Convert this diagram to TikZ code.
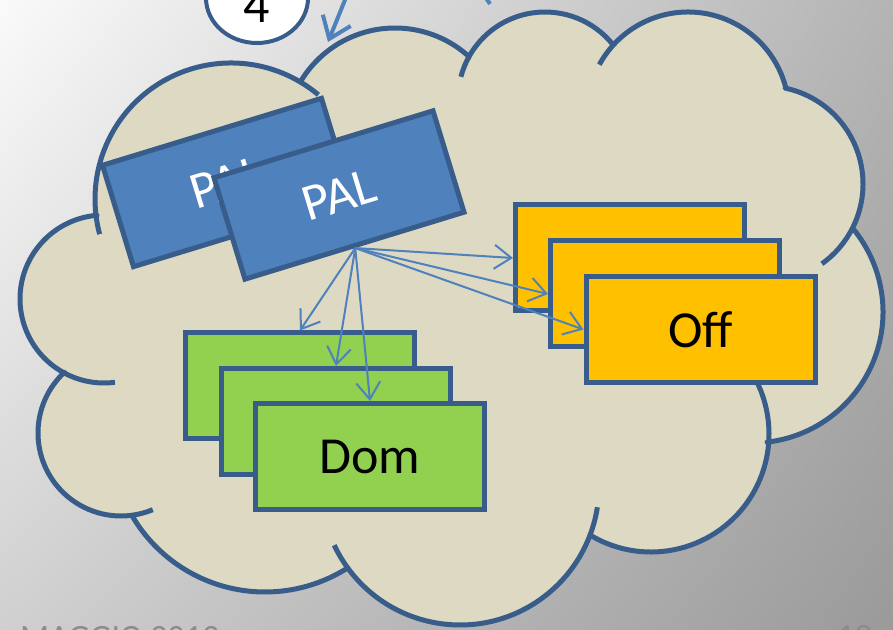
\documentclass[tikz,border=0pt]{standalone}
\usepackage{fontspec}
\setmainfont{Carlito}
\usetikzlibrary{arrows.meta, shapes.geometric, shadings}
\definecolor{palblue}{HTML}{4F81BD}
\definecolor{edgeblue}{HTML}{385D8A}
\definecolor{cloudtan}{HTML}{DDD9C3}
\definecolor{offorange}{HTML}{FFC000}
\definecolor{domgreen}{HTML}{92D050}
\definecolor{footgray}{HTML}{8C8C8C}
\definecolor{bgul}{HTML}{FAFAFA}
\definecolor{bgur}{HTML}{B4B4B4}
\definecolor{bgll}{HTML}{D0D0D0}
\definecolor{bglr}{HTML}{9A9A9A}

\begin{document}
\begin{tikzpicture}[x=1pt, y=1pt,
    box/.style={draw=edgeblue, line width=5pt, minimum width=229pt, minimum height=106pt,
      inner sep=0pt, font=\fontsize{52}{56}\selectfont},
    cloudline/.style={draw=edgeblue, line width=5pt, line join=round},
    link/.style={palblue, line width=2pt, -{Straight Barb[length=17pt, width=24pt]}},
    cue/.style={palblue, line width=4pt, -{Straight Barb[length=20pt, width=30pt]}},
    footer/.style={text=footgray, inner sep=0pt, font=\fontsize{34}{36}\selectfont}]
  \useasboundingbox (0,0) rectangle (893,629);
  \clip (0,0) rectangle (893,629);
  % slide backdrop
  \shade[upper left=bgul, upper right=bgur, lower left=bgll, lower right=bglr]
    (0,0) rectangle (893,629);

  % step marker and incoming arrows
  \node[ellipse, draw=edgeblue, fill=white, line width=4pt, minimum width=102pt,
    minimum height=90pt] (ring) at (257,631) {};
  \node[anchor=base, inner sep=0pt, font=\fontsize{52}{56}\selectfont] (num) at (257,606) {4};
  \coordinate (cuetail) at (347,634);
  \coordinate (cuehead) at (328,587);
  \draw[cue] (cuetail) -- (cuehead);
  \coordinate (straytail) at (484,634);
  \coordinate (strayhead) at (490,625);
  \draw[palblue, line width=4pt] (straytail) -- (strayhead);

  % cloud: one arc per lobe
  \filldraw[cloudline, fill=cloudtan] ([shift={(59.5:136)}]231,430)
    \foreach \x/\y/\r/\a/\b in {231/430/136/59.5/186.8, 104/330/84/94.8/242.2,
        121/196/83/133/277.6, 265/191/154/210.1/302.6, 460/143/139/216.2/339.3,
        651/195/118/238.9/356.1, 752/317/131/276.6/399.7, 765/445/98/333.4/438.2,
        688/516/101/14.5/137.8, 545/530/87/38.5/152, 395/491/110/47.6/149.5}
    { -- ([shift={(\a:\r)}]\x,\y) arc[start angle=\a, end angle=\b, radius=\r] } -- cycle;
  % inner stubs
  \foreach \x/\y/\r/\a/\b in {231/430/136/186.8/195, 231/430/136/50/59.5,
      104/330/84/242.2/277.5, 121/196/83/277.6/292.5, 460/143/139/205.2/216.2,
      460/143/139/339.3/351.2, 651/195/118/356.1/390, 765/445/98/305.5/333.4,
      688/516/101/137.8/151.4, 545/530/87/152/165.2}
    \draw[cloudline] ([shift={(\a:\r)}]\x,\y) arc[start angle=\a, end angle=\b, radius=\r];

  % boxes
  \node[box, fill=palblue, text=white, rotate=17] (palback) at (227.5,446.5) {PAL};
  \node[box, fill=palblue, text=white, rotate=17] (pal) at (339,434) {PAL};
  \node[box, fill=domgreen] (dom1) at (300,243) {};
  \node[box, fill=domgreen] (dom2) at (336,207.5) {};
  \node[box, fill=domgreen] (dom3) at (370,172.5) {Dom};
  \node[box, fill=offorange] (off1) at (630,371) {};
  \node[box, fill=offorange] (off2) at (665,335) {};
  \node[box, fill=offorange] (off3) at (700.5,299.5) {Off};

  \foreach \t in {off1.west, off2.west, off3.west, dom1.north, dom2.north, dom3.north}
    \draw[link] (pal.south) -- (\t);

  % footer, cut by the frame
  \node[footer, anchor=base west] (date) at (20,-19) {MAGGIO 2013};
  \node[footer, anchor=base east] (page) at (872,-18) {19};
\end{tikzpicture}
\end{document}
